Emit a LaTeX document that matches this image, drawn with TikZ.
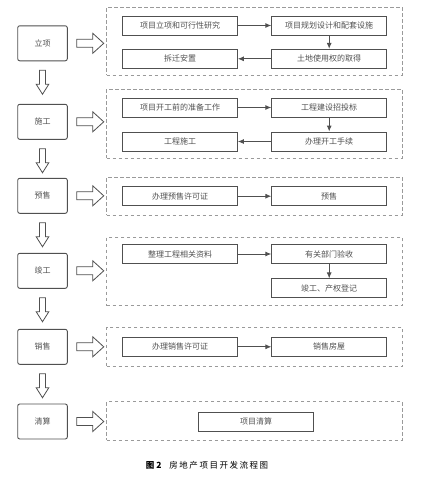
\documentclass[tikz,border=0pt]{standalone}
\usepackage{fontspec}
\setmainfont{Noto Sans CJK SC}
\usetikzlibrary{arrows.meta}
\definecolor{boxline}{HTML}{505050}
\definecolor{txt}{HTML}{505050}
\definecolor{dashc}{HTML}{9A9A9A}
\tikzset{
  lbox/.style={draw=boxline, line width=0.9pt, rounded corners=2pt, minimum width=49.6pt, minimum height=35pt, inner sep=0pt, text=txt, font=\fontsize{8}{9}\selectfont},
  ibox/.style={draw=boxline, line width=0.9pt, minimum width=114.8pt, minimum height=19pt, inner sep=0pt, text=txt, font=\fontsize{8}{9}\selectfont},
  frame/.style={draw=dashc, line width=0.8pt, dash pattern=on 3.5pt off 2.5pt, minimum width=295.6pt, inner sep=0pt},
  conn/.style={draw=boxline, line width=0.9pt, -{Latex[length=6pt,width=5pt]}},
  hollow/.style={draw=boxline, line width=0.8pt, fill=white},
  rarrow/.pic={\draw[hollow] (0,-4) -- (16,-4) -- (16,-10) -- (27,0) -- (16,10) -- (16,4) -- (0,4) -- cycle;},
  darrow/.pic={\draw[hollow] (-3,0) -- (3,0) -- (3,14) -- (6.3,14) -- (0,24) -- (-6.3,14) -- (-3,14) -- cycle;}
}
\begin{document}
\begin{tikzpicture}[x=1pt,y=-1pt]
\useasboundingbox (0,0) rectangle (440,477);
% left stage boxes
\node[lbox] (l1) at (42.5,43.3) {立项};
\node[lbox] (l2) at (42.5,121.8) {施工};
\node[lbox] (l3) at (42.5,195.8) {预售};
\node[lbox] (l4) at (42.5,270.8) {竣工};
\node[lbox] (l5) at (42.5,346.8) {销售};
\node[lbox] (l6) at (42.5,421.5) {清算};
% down hollow arrows
\foreach \a in {l1,l2,l3,l4,l5}{
  \path (\a.south) ++(0,9) coordinate (d\a);
  \pic at (d\a) {darrow};
}
% right hollow arrows
\foreach \a in {l1,l2,l3,l4,l5,l6}{
  \path (\a.east) ++(9,0) coordinate (r\a);
  \pic at (r\a) {rarrow};
}
% frames
\node[frame, minimum height=68pt] (f1) at (254.5,41.3) {};
\node[frame, minimum height=68.7pt] (f2) at (254.5,123.65) {};
\node[frame, minimum height=37.7pt] (f3) at (254.5,196.15) {};
\node[frame, minimum height=68.4pt] (f4) at (254.5,271.5) {};
\node[frame, minimum height=39.4pt] (f5) at (254.5,347) {};
\node[frame, minimum height=38.3pt] (f6) at (254.5,420.85) {};
% frame 1
\node[ibox] (a1) at (180,25.5) {项目立项和可行性研究};
\node[ibox] (a2) at (329.2,25.5) {项目规划设计和配套设施};
\node[ibox] (a3) at (329.2,58.8) {土地使用权的取得};
\node[ibox] (a4) at (180,58.8) {拆迁安置};
\draw[conn] (a1) -- (a2);
\draw[conn] (a2) -- (a3);
\draw[conn] (a3) -- (a4);
% frame 2
\node[ibox] (b1) at (180,107.5) {项目开工前的准备工作};
\node[ibox] (b2) at (329.2,107.5) {工程建设招投标};
\node[ibox] (b3) at (329.2,141.5) {办理开工手续};
\node[ibox] (b4) at (180,141.5) {工程施工};
\draw[conn] (b1) -- (b2);
\draw[conn] (b2) -- (b3);
\draw[conn] (b3) -- (b4);
% frame 3
\node[ibox] (c1) at (180,196.2) {办理预售许可证};
\node[ibox] (c2) at (329.2,196.2) {预售};
\draw[conn] (c1) -- (c2);
% frame 4
\node[ibox] (e1) at (180,254) {整理工程相关资料};
\node[ibox] (e2) at (329.2,254) {有关部门验收};
\node[ibox] (e3) at (329.2,288.4) {竣工、产权登记};
\draw[conn] (e1) -- (e2);
\draw[conn] (e2) -- (e3);
% frame 5
\node[ibox] (g1) at (180,346.8) {办理销售许可证};
\node[ibox] (g2) at (329.2,346.8) {销售房屋};
\draw[conn] (g1) -- (g2);
% frame 6
\node[ibox] (h1) at (256,421.5) {项目清算};
% caption
\node[font=\fontsize{8.5}{10}\selectfont, text=black] (cap) at (207,465.7) {\textbf{图 2}\hspace{8pt}{\addfontfeatures{LetterSpace=18}房地产项目开发流程图}};
\end{tikzpicture}
\end{document}
